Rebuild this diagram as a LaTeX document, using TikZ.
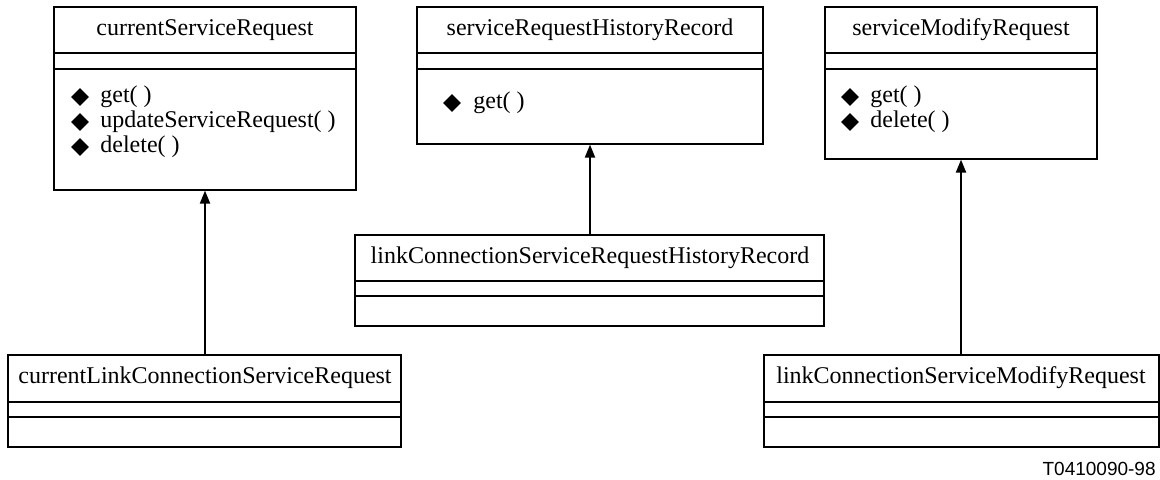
\documentclass[tikz,border=0pt]{standalone}
\usepackage{fontspec}
\setmainfont{Liberation Serif}
\newfontfamily\figfont{Liberation Sans}
\usetikzlibrary{arrows.meta,fit,shapes.geometric}

\tikzset{
  classbox/.style={draw, line width=0.6pt, inner sep=0pt},
  divider/.style={line width=1pt},
  classname/.style={font=\fontsize{12}{14}\selectfont, inner sep=0pt},
  methname/.style={font=\fontsize{12}{14}\selectfont, inner sep=0pt, anchor=west},
  methmark/.style={diamond, fill=black, inner sep=0pt, minimum size=9pt},
  inherit/.style={line width=1pt, -{Triangle[length=6.5pt,width=5pt]}}
}

\begin{document}
\begin{tikzpicture}[x=0.5pt,y=-0.5pt]
    \useasboundingbox (0,0) rectangle (1160,480);

    % upper classes
    \node [classbox, fit={(54,7) (356,190)}] (csr) {};
    \node [classbox, fit={(417,7) (763,144)}] (srhr) {};
    \node [classbox, fit={(825,7) (1097,159)}] (smr) {};

    % lower classes
    \node [classbox, fit={(8,355) (401,447)}] (clcsr) {};
    \node [classbox, fit={(355,235) (824,326)}] (lcsrhr) {};
    \node [classbox, fit={(764,355) (1159,447)}] (lcsmr) {};

    % compartment lines
    \foreach \cls/\ya/\yb in {csr/53/69, srhr/53/69, smr/53/69, clcsr/402/417, lcsrhr/281/296, lcsmr/402/417} {
        \draw [divider] (\cls.west |- 0,\ya) -- (\cls.east |- 0,\ya);
        \draw [divider] (\cls.west |- 0,\yb) -- (\cls.east |- 0,\yb);
    }

    % class names
    \node [classname] (csr-name) at (205,30) {currentServiceRequest};
    \node [classname] (srhr-name) at (590,30) {serviceRequestHistoryRecord};
    \node [classname] (smr-name) at (961,30) {serviceModifyRequest};
    \node [classname] (clcsr-name) at (205,378) {currentLinkConnectionServiceRequest};
    \node [classname] (lcsrhr-name) at (590,258) {linkConnectionServiceRequestHistoryRecord};
    \node [classname] (lcsmr-name) at (961,378) {linkConnectionServiceModifyRequest};

    % operations
    \foreach \y/\m [count=\i] in {97/get( ), 122/updateServiceRequest( ), 147/delete( )} {
        \node [methmark] (csr-mark\i) at (80,\y) {};
        \node [methname] (csr-op\i) at (100,\y) {\m};
    }
    \node [methmark] (srhr-mark1) at (452,103) {};
    \node [methname] (srhr-op1) at (473,103) {get( )};
    \foreach \y/\m [count=\i] in {97/get( ), 122/delete( )} {
        \node [methmark] (smr-mark\i) at (850,\y) {};
        \node [methname] (smr-op\i) at (870,\y) {\m};
    }

    % inheritance
    \draw [inherit] (clcsr.north -| csr.south) -- (csr.south);
    \draw [inherit] (lcsrhr.north -| srhr.south) -- (srhr.south);
    \draw [inherit] (lcsmr.north -| smr.south) -- (smr.south);

    \node [font=\figfont\fontsize{9.5}{11}\selectfont, inner sep=0pt, anchor=east] (figid) at (1156,469) {T0410090-98};
\end{tikzpicture}
\end{document}
